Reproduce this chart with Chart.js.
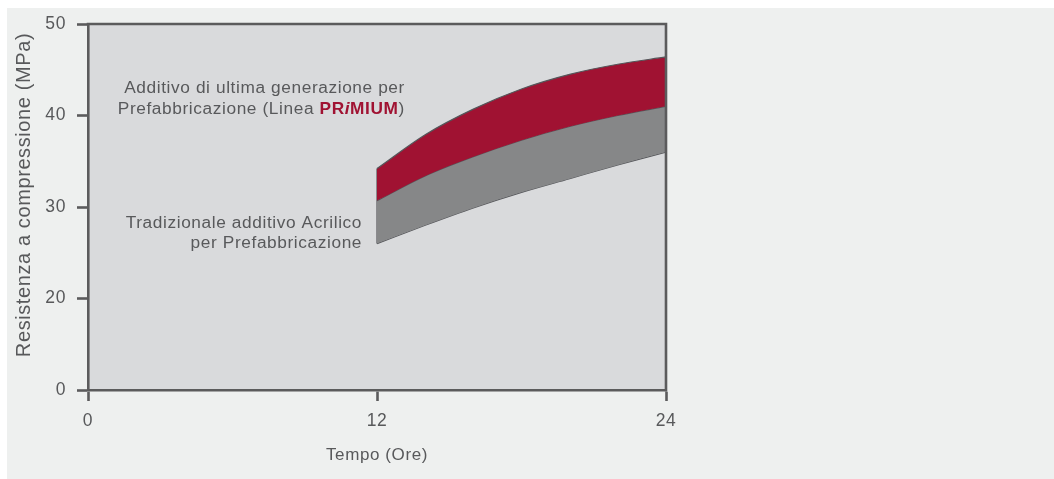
<!DOCTYPE html>
<html>
<head>
<meta charset="utf-8">
<title>Resistenza a compressione</title>
<script src="https://cdn.jsdelivr.net/npm/chart.js@4.4.1/dist/chart.umd.min.js"></script>
<style>
  html, body { margin: 0; padding: 0; background: #ffffff; width: 1054px; height: 479px; overflow: hidden; }
  #panel { position: absolute; left: 7px; top: 8px; width: 1047px; height: 471px; background: #eef0ef; }
  #wrap { position: absolute; left: 0; top: 0; width: 1054px; height: 479px; }
</style>
</head>
<body>
<div id="panel"></div>
<div id="wrap"><canvas id="chart" width="1054" height="479"></canvas></div>
<script>
// Curing time (hours) and strength envelopes (MPa)
const hours = [12, 14, 16, 18, 20, 22, 24];
const primiumUpper = [34.2, 37.9, 40.7, 42.9, 44.5, 45.6, 46.4];
const primiumLower = [30.7, 33.4, 35.5, 37.3, 38.8, 40.0, 41.0]; // also the upper edge of the acrylic band
const acrylicLower = [26.0, 28.0, 29.9, 31.6, 33.1, 34.6, 36.0];

// Axis ticks (the value axis is broken below 20: its bottom tick reads 0)
const xTicks = [0, 12, 24];
const xTickLabels = ['0', '12', '24'];
const yTicks = [10, 20, 30, 40, 50];
const yTickLabels = ['0', '20', '30', '40', '50'];
const yTitle = 'Resistenza a compressione (MPa)';
const xTitle = 'Tempo (Ore)';

const FONT = "'Liberation Sans', Arial, Helvetica, sans-serif";
const INK = '#58595b';
const AXIS = '#5b5b5c';
const EDGE = '#55565a';
const RED = '#a01232';
const GREY = '#868788';
const PLOT_BG = '#d9dadc';
const SPACING = '0.6px';

const toPoints = arr => hours.map((h, i) => ({ x: h, y: arr[i] }));

// In-plot captions, anchored in data units (right edge, vertical middle)
const notes = [
  { x: 13.16, y: 43.0, parts: [{ t: 'Additivo di ultima generazione per' }] },
  { x: 13.16, y: 40.7, parts: [
      { t: 'Prefabbricazione (Linea ' },
      { t: 'PR', bold: true, red: true },
      { t: 'i', bold: true, italic: true, red: true },
      { t: 'MIUM', bold: true, red: true },
      { t: ')' }
  ] },
  { x: 11.38, y: 28.25, parts: [{ t: 'Tradizionale additivo Acrilico' }] },
  { x: 11.38, y: 26.07, parts: [{ t: 'per Prefabbricazione' }] }
];

const plotFrame = {
  id: 'plotFrame',
  beforeDraw(chart) {
    const { ctx, chartArea: a } = chart;
    if ('letterSpacing' in ctx) ctx.letterSpacing = SPACING;
    ctx.save();
    ctx.fillStyle = PLOT_BG;
    ctx.fillRect(a.left, a.top, a.right - a.left, a.bottom - a.top);
    ctx.restore();
  },
  afterDraw(chart) {
    const { ctx, chartArea: a, scales } = chart;
    ctx.save();
    // top and right edges of the plot frame
    ctx.strokeStyle = AXIS;
    ctx.lineWidth = 2.6;
    ctx.beginPath();
    ctx.moveTo(a.left - 1.3, a.top);
    ctx.lineTo(a.right, a.top);
    ctx.lineTo(a.right, a.bottom + 1.3);
    ctx.stroke();

    // value-axis title, rotated, sitting a little above the plot middle
    ctx.save();
    ctx.translate(24, (a.top + a.bottom) / 2 - 12);
    ctx.rotate(-Math.PI / 2);
    ctx.font = '20px ' + FONT;
    ctx.fillStyle = INK;
    ctx.textAlign = 'center';
    ctx.textBaseline = 'middle';
    ctx.fillText(yTitle, 0, 0);
    ctx.restore();

    // captions
    ctx.textBaseline = 'middle';
    ctx.textAlign = 'left';
    const size = 17.3;
    const fontFor = p => (p.italic ? 'italic ' : '') + (p.bold ? 'bold ' : '') + size + 'px ' + FONT;
    notes.forEach(n => {
      const xr = scales.x.getPixelForValue(n.x);
      const yc = scales.y.getPixelForValue(n.y);
      let total = 0;
      n.parts.forEach(p => { ctx.font = fontFor(p); p.w = ctx.measureText(p.t).width; total += p.w; });
      let x = xr - total;
      n.parts.forEach(p => {
        ctx.font = fontFor(p);
        ctx.fillStyle = p.red ? RED : INK;
        ctx.fillText(p.t, x, yc);
        x += p.w;
      });
    });
    ctx.restore();
  }
};

const band = (data, fill, bg) => ({
  data: toPoints(data),
  fill: fill,
  backgroundColor: bg,
  borderColor: EDGE,
  borderWidth: 1.2,
  pointRadius: 0,
  pointHoverRadius: 0,
  cubicInterpolationMode: 'monotone'
});

new Chart(document.getElementById('chart'), {
  type: 'line',
  data: {
    datasets: [
      Object.assign(band(primiumUpper, '+1', RED), { label: 'Linea PRiMIUM' }),
      Object.assign(band(primiumLower, '+1', GREY), { label: 'Tradizionale additivo Acrilico' }),
      Object.assign(band(acrylicLower, false, 'transparent'), { label: 'Acrilico (minimo)' }),
      {
        label: 'bordo',
        data: [{ x: hours[0], y: acrylicLower[0] }, { x: hours[0], y: primiumUpper[0] }],
        fill: false,
        borderColor: EDGE,
        borderWidth: 1.2,
        pointRadius: 0
      }
    ]
  },
  options: {
    responsive: false,
    animation: false,
    events: [],
    layout: { padding: { left: 0, top: 24, right: 388, bottom: 9 } },
    plugins: { legend: { display: false }, tooltip: { enabled: false } },
    scales: {
      x: {
        type: 'linear',
        min: 0,
        max: 24,
        afterBuildTicks: s => { s.ticks = xTicks.map(v => ({ value: v })); },
        afterFit: s => { s.height = 80; },
        grid: { drawOnChartArea: false, drawTicks: true, tickLength: 11, tickWidth: 2.6, tickColor: AXIS },
        border: { display: true, color: AXIS, width: 2.6 },
        ticks: {
          callback: (v, i) => xTickLabels[i],
          color: INK,
          font: { family: FONT, size: 17.5 },
          padding: 9.5,
          maxRotation: 0,
          autoSkip: false
        },
        title: {
          display: true,
          text: xTitle,
          color: INK,
          font: { family: FONT, size: 17 },
          padding: { top: 0, bottom: 4 }
        }
      },
      y: {
        type: 'linear',
        min: 10,
        max: 50,
        afterBuildTicks: s => { s.ticks = yTicks.map(v => ({ value: v })); },
        afterFit: s => { s.width = 88; },
        grid: { drawOnChartArea: false, drawTicks: true, tickLength: 11, tickWidth: 2.6, tickColor: AXIS },
        border: { display: true, color: AXIS, width: 2.6 },
        ticks: {
          callback: (v, i) => yTickLabels[i],
          color: INK,
          font: { family: FONT, size: 17.5 },
          padding: 11,
          autoSkip: false
        },
        title: { display: false }
      }
    }
  },
  plugins: [plotFrame]
});
</script>
</body>
</html>
